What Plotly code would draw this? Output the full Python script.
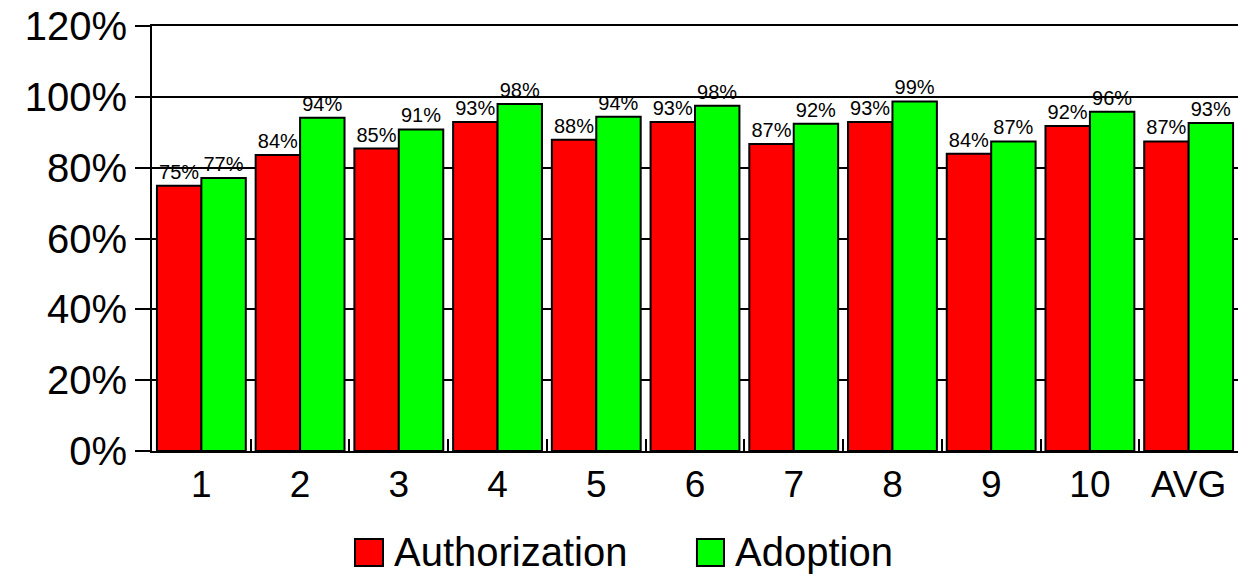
import plotly.graph_objects as go

categories = ["1", "2", "3", "4", "5", "6", "7", "8", "9", "10", "AVG"]
authorization = [74.9, 83.6, 85.4, 92.9, 87.9, 92.9, 86.7, 92.9, 83.9, 91.8, 87.4]
adoption = [77.1, 94.1, 90.8, 98.0, 94.4, 97.5, 92.4, 98.7, 87.4, 95.8, 92.6]
y_ticks = [0, 20, 40, 60, 80, 100, 120]
y_tick_labels = [f"{v}%" for v in y_ticks]
series_names = ["Authorization", "Adoption"]
series_colors = ["#ff0000", "#00ff00"]

FONT = "Liberation Sans, Arial, sans-serif"

fig = go.Figure()
for name, vals, col in zip(series_names, [authorization, adoption], series_colors):
    fig.add_trace(go.Bar(
        name=name, x=categories, y=vals,
        marker=dict(color=col, line=dict(color="black", width=2)),
        texttemplate="%{y:.0f}%", textposition="outside",
        textfont=dict(size=20, color="black", family=FONT),
        cliponaxis=False, showlegend=False,
    ))

# custom legend (large square swatches like the reference)
legend_boxes = [(0.1869, 0.2127), (0.5018, 0.5267)]
legend_text_x = [0.221, 0.535]
shapes = []
annotations = []
for (x0, x1), tx, name, col in zip(legend_boxes, legend_text_x, series_names, series_colors):
    shapes.append(dict(type="rect", xref="paper", yref="paper",
                       x0=x0, x1=x1, y0=-0.2706, y1=-0.2071,
                       fillcolor=col, line=dict(color="black", width=2)))
    annotations.append(dict(xref="paper", yref="paper", x=tx, y=-0.2388,
                            xanchor="left", yanchor="middle", text=name,
                            showarrow=False, font=dict(size=40, family=FONT, color="black")))

fig.update_layout(
    width=1238, height=576,
    margin=dict(l=152, r=0, t=26, b=125),
    paper_bgcolor="white", plot_bgcolor="white",
    barmode="group", bargap=0.1, bargroupgap=0,
    font=dict(family=FONT, color="black"),
    shapes=shapes, annotations=annotations,
    xaxis=dict(
        type="category", showline=True, linecolor="black", linewidth=2, mirror=True,
        ticks="inside", tickson="boundaries", ticklen=12, tickwidth=2, tickcolor="black",
        tickfont=dict(size=37, family=FONT), showgrid=False, automargin=False,
    ),
    yaxis=dict(
        range=[0, 120], tickmode="array", tickvals=y_ticks, ticktext=y_tick_labels,
        showline=True, linecolor="black", linewidth=2,
        showgrid=True, gridcolor="black", gridwidth=2,
        ticks="outside", ticklen=15, tickwidth=2, tickcolor="black",
        tickfont=dict(size=40, family=FONT), zeroline=False, automargin=False,
        ticklabeloverflow="allow",
    ),
)

fig.write_html(
    "out.html",
    config={"displayModeBar": False},
    post_script="document.body.style.margin='0';document.body.style.overflow='hidden';",
)
